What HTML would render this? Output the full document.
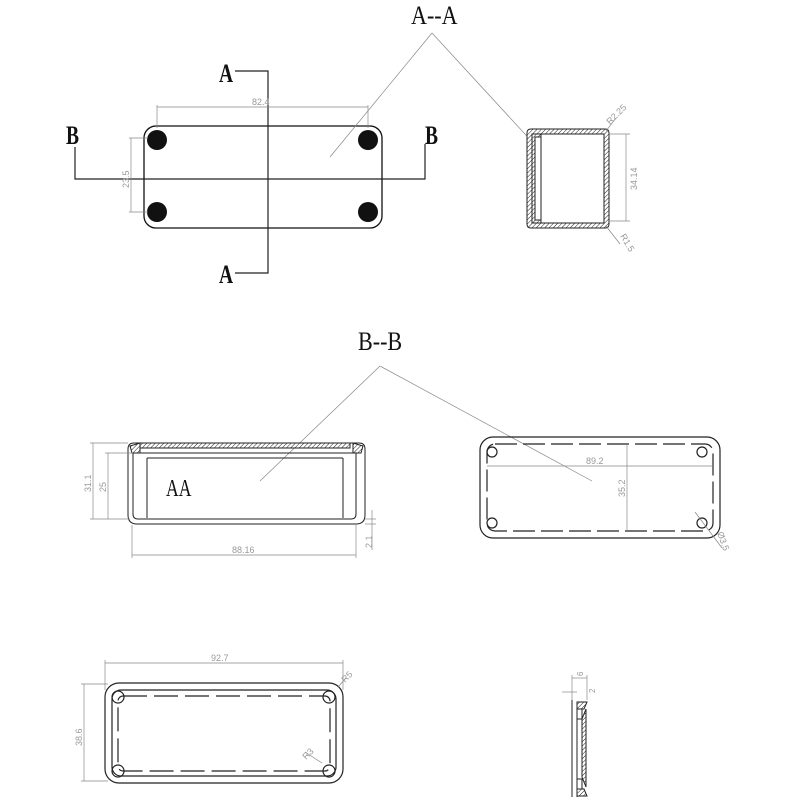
<!DOCTYPE html>
<html><head><meta charset="utf-8"><style>html,body{margin:0;padding:0;background:#fff}svg{display:block}</style></head>
<body>
<svg width="800" height="800" viewBox="0 0 800 800" xmlns="http://www.w3.org/2000/svg">
<defs>
<pattern id="h" width="3" height="3" patternUnits="userSpaceOnUse" patternTransform="rotate(45)">
<rect width="3" height="3" fill="#fff"/><line x1="0" y1="0" x2="0" y2="3" stroke="#222" stroke-width="1"/>
</pattern>
</defs>
<g fill="none" stroke="#111" stroke-width="1.3">
<rect x="144" y="126" width="238" height="102" rx="12"/>
</g>
<g fill="#111">
<circle cx="157" cy="140" r="10"/><circle cx="368" cy="140" r="10"/>
<circle cx="157" cy="212" r="10"/><circle cx="368" cy="212" r="10"/>
</g>
<g fill="none" stroke="#222" stroke-width="1.2">
<polyline points="235,71 268,71 268,273 235,273"/>
<polyline points="75,147 75,179 425,179 425,144"/>
</g>
<g stroke="#888" stroke-width="0.7" fill="none">
<line x1="157" y1="107" x2="368" y2="107"/><line x1="157" y1="105" x2="157" y2="128"/><line x1="368" y1="105" x2="368" y2="128"/>
<line x1="131" y1="138" x2="131" y2="212"/><line x1="129" y1="138" x2="148" y2="138"/><line x1="129" y1="212" x2="148" y2="212"/>
<line x1="432" y1="33" x2="330" y2="157"/><line x1="432" y1="33" x2="570" y2="183"/>
<line x1="380" y1="366" x2="260" y2="481"/><line x1="380" y1="366" x2="592" y2="481"/>
</g>
<g font-family="Liberation Sans, sans-serif" font-size="9" fill="#999">
<text x="252" y="105">82.4</text>
<text transform="translate(129,188) rotate(-90)">23.5</text>
</g>
<g font-family="Liberation Serif, serif" font-size="26" fill="#111" font-weight="bold">
<text transform="translate(219,82) scale(0.75,1)">A</text><text transform="translate(219,283) scale(0.75,1)">A</text>
<text transform="translate(66,144) scale(0.75,1)">B</text><text transform="translate(425,144) scale(0.75,1)">B</text>
<text transform="translate(411,24) scale(0.85,1)" font-weight="normal">A--A</text>
<text transform="translate(358,350) scale(0.85,1)" font-weight="normal">B--B</text>
<text transform="translate(166,496) scale(0.8,1.1)" font-size="22" font-weight="normal">AA</text>
</g>
<g stroke="#222" stroke-width="1">
<path d="M527,133 q0,-4 4,-4 h74 q4,0 4,4 v91 q0,4 -4,4 h-74 q-4,0 -4,-4 z" fill="url(#h)"/>
<rect x="532" y="134" width="72" height="89" fill="#fff"/>
<rect x="532" y="134" width="9" height="89" fill="url(#h)"/>
<rect x="535" y="137" width="6" height="83" fill="#fff"/>
</g>
<g stroke="#888" stroke-width="0.7">
<line x1="626" y1="134" x2="626" y2="221"/><line x1="608" y1="134" x2="630" y2="134"/><line x1="608" y1="221" x2="630" y2="221"/>
<line x1="606" y1="131" x2="616" y2="118"/><line x1="606" y1="226" x2="620" y2="244"/>
</g>
<g font-family="Liberation Sans, sans-serif" font-size="9" fill="#999">
<text transform="translate(637,190) rotate(-90)">34.14</text>
<text transform="translate(610,125) rotate(-45)">R2.25</text>
<text transform="translate(620,236) rotate(60)">R1.5</text>
</g>
<g stroke="#222" stroke-width="1" fill="none">
<path d="M128,449 q0,-6 6,-6 h225 q6,0 6,6 v66 q0,9 -9,9 h-219 q-9,0 -9,-9 z"/>
<path d="M133,452 v62 q0,5 5,5 h213 q5,0 5,-5 v-62"/>
<rect x="140" y="443" width="210" height="5" fill="url(#h)"/>
<line x1="133" y1="453" x2="356" y2="453"/>
<line x1="147" y1="458" x2="343" y2="458"/>
<line x1="147" y1="458" x2="147" y2="518"/><line x1="343" y1="458" x2="343" y2="518"/>
<path d="M130,446 l10,-3 v10 h-8 z" fill="url(#h)"/>
<path d="M363,446 l-10,-3 v10 h8 z" fill="url(#h)"/>
</g>
<g stroke="#888" stroke-width="0.7">
<line x1="93" y1="443" x2="93" y2="519"/><line x1="90" y1="443" x2="128" y2="443"/><line x1="90" y1="519" x2="130" y2="519"/>
<line x1="108" y1="453" x2="108" y2="519"/><line x1="105" y1="453" x2="133" y2="453"/>
<line x1="132" y1="555" x2="356" y2="555"/><line x1="132" y1="525" x2="132" y2="558"/><line x1="356" y1="525" x2="356" y2="558"/>
<line x1="372" y1="510" x2="372" y2="550"/><line x1="365" y1="519" x2="376" y2="519"/><line x1="365" y1="524" x2="376" y2="524"/>
</g>
<g font-family="Liberation Sans, sans-serif" font-size="9" fill="#999">
<text transform="translate(91,492) rotate(-90)">31.1</text>
<text transform="translate(106,492) rotate(-90)">25</text>
<text x="232" y="553">88.16</text>
<text transform="translate(372,548) rotate(-90)">2.1</text>
</g>
<g stroke="#222" stroke-width="1.2" fill="none">
<rect x="480" y="437" width="240" height="101" rx="13"/>
<rect x="487" y="444" width="226" height="87" rx="8" stroke-dasharray="22,6"/>
<circle cx="492" cy="452" r="5"/><circle cx="702" cy="452" r="5"/>
<circle cx="492" cy="523" r="5"/><circle cx="702" cy="523" r="5"/>
</g>
<g stroke="#888" stroke-width="0.7">
<line x1="487" y1="466" x2="713" y2="466"/>
<line x1="627" y1="444" x2="627" y2="531"/>
<line x1="695" y1="512" x2="722" y2="548"/>
</g>
<g font-family="Liberation Sans, sans-serif" font-size="9" fill="#999">
<text x="586" y="464">89.2</text>
<text transform="translate(625,497) rotate(-90)">35.2</text>
<text transform="translate(717,533) rotate(70)">Ø3.5</text>
</g>
<g stroke="#222" stroke-width="1.2" fill="none">
<rect x="105" y="683" width="238" height="100" rx="14"/>
<rect x="112" y="690" width="224" height="86" rx="9"/>
<rect x="118" y="696" width="212" height="75" rx="5" stroke-dasharray="24,7"/>
<circle cx="118" cy="697" r="6"/><circle cx="329" cy="697" r="6"/>
<circle cx="118" cy="771" r="6"/><circle cx="329" cy="771" r="6"/>
</g>
<g stroke="#888" stroke-width="0.7">
<line x1="105" y1="663" x2="343" y2="663"/><line x1="105" y1="660" x2="105" y2="690"/><line x1="343" y1="660" x2="343" y2="690"/>
<line x1="84" y1="684" x2="84" y2="781"/><line x1="81" y1="684" x2="108" y2="684"/><line x1="81" y1="781" x2="108" y2="781"/>
<line x1="338" y1="687" x2="346" y2="678"/><line x1="305" y1="752" x2="322" y2="763"/>
</g>
<g font-family="Liberation Sans, sans-serif" font-size="9" fill="#999">
<text x="211" y="661">92.7</text>
<text transform="translate(82,746) rotate(-90)">38.6</text>
<text transform="translate(345,683) rotate(-45)">R5</text>
<text transform="translate(306,760) rotate(-45)">R3</text>
</g>
<g stroke="#222" stroke-width="1" fill="none">
<line x1="572" y1="700" x2="572" y2="797"/>
<path d="M577,702 h10 l-3,7 h-7 z" fill="url(#h)"/>
<rect x="577" y="709" width="5" height="10"/>
<path d="M582,719 l4,-10 v78 l-4,-10 z" fill="url(#h)"/>
<rect x="577" y="779" width="5" height="10"/>
<path d="M577,789 h7 l3,7 h-10 z" fill="url(#h)"/>
<line x1="577" y1="702" x2="577" y2="797"/>
</g>
<g stroke="#888" stroke-width="0.7">
<line x1="572" y1="675" x2="572" y2="700"/><line x1="587" y1="675" x2="587" y2="700"/>
<line x1="572" y1="678" x2="587" y2="678"/><line x1="562" y1="692" x2="577" y2="692"/>
</g>
<g font-family="Liberation Sans, sans-serif" font-size="8" fill="#999">
<text transform="translate(583,676) rotate(-90)">6</text>
<text transform="translate(595,693) rotate(-90)">2</text>
</g>
</svg>
</body></html>
